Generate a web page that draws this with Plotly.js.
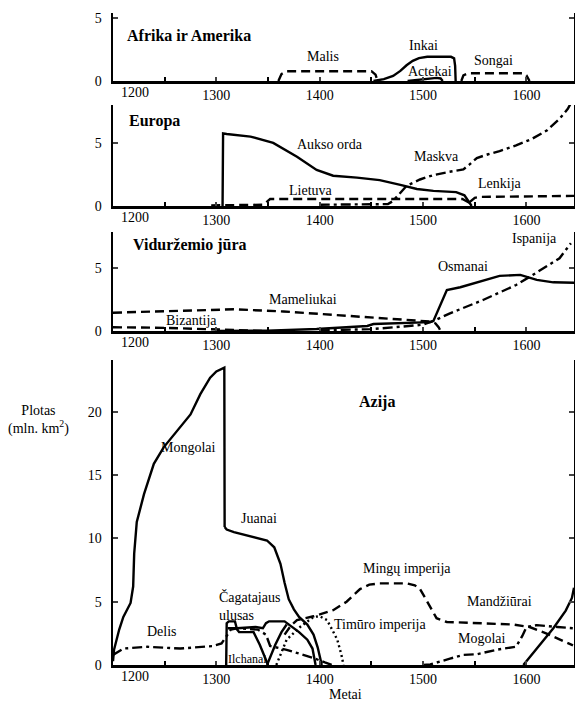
<!DOCTYPE html>
<html>
<head>
<meta charset="utf-8">
<script src="https://cdn.plot.ly/plotly-3.0.1.min.js"></script>
<style>html,body{margin:0;padding:0;background:#fff;}#chart{width:575px;height:703px;}</style>
</head>
<body>
<div id="chart"></div>
<script>
// ---------- data (years, area in mln. km²) ----------
// Afrika ir Amerika
var malisYears   = [1360, 1363, 1368, 1450, 1454, 1456];
var malisArea    = [0, 0.55, 0.78, 0.78, 0.5, 0];
var inkaiYears   = [1452, 1462, 1471, 1478, 1484, 1490, 1496, 1504, 1527, 1530, 1531, 1531.5];
var inkaiArea    = [0, 0.15, 0.4, 0.8, 1.25, 1.6, 1.82, 1.92, 1.92, 1.8, 1.2, 0];
var actekaiYears = [1485, 1495, 1505, 1513, 1517, 1519];
var actekaiArea  = [0, 0.08, 0.18, 0.25, 0.2, 0];
var songaiYears  = [1537, 1539, 1544, 1596, 1600, 1603];
var songaiArea   = [0, 0.45, 0.62, 0.62, 0.45, 0];

// Europa
var auksoYears   = [1306, 1306.5, 1310, 1333, 1355, 1378, 1397, 1413, 1436, 1458, 1478, 1494, 1510, 1532, 1540, 1544, 1547];
var auksoArea    = [0, 5.75, 5.7, 5.5, 5.0, 3.9, 2.86, 2.4, 2.25, 2.05, 1.67, 1.35, 1.2, 1.1, 0.85, 0.4, 0];
var lietuvaYears = [1295, 1345, 1349, 1352, 1538, 1542, 1545];
var lietuvaArea  = [0.05, 0.1, 0.35, 0.55, 0.55, 0.4, 0.25];
var lenkijaYears = [1545, 1550, 1555, 1600, 1646];
var lenkijaArea  = [0.3, 0.65, 0.72, 0.75, 0.8];
var maskvaYears  = [1400, 1440, 1466, 1471, 1478, 1484, 1497, 1510, 1525, 1539, 1545, 1552, 1563, 1574, 1590, 1605, 1620, 1632, 1640, 1646];
var maskvaArea   = [0.1, 0.1, 0.15, 0.4, 1.0, 1.6, 2.1, 2.45, 2.7, 2.9, 3.3, 3.8, 4.1, 4.35, 4.8, 5.3, 6.0, 6.9, 7.7, 8.6];

// Viduržemio jūra
var mameliukaiYears = [1200, 1250, 1285, 1317, 1365, 1413, 1462, 1507, 1512, 1515, 1517];
var mameliukaiArea  = [1.45, 1.55, 1.67, 1.72, 1.55, 1.27, 1.0, 0.75, 0.6, 0.3, 0];
var bizantijaYears  = [1200, 1250, 1290, 1330, 1345];
var bizantijaArea   = [0.3, 0.25, 0.15, 0.05, 0];
var osmanaiYears    = [1300, 1349, 1397, 1446, 1452, 1480, 1507, 1510, 1523, 1536, 1555, 1574, 1594, 1610, 1626, 1646];
var osmanaiArea     = [0, 0.02, 0.16, 0.4, 0.55, 0.62, 0.7, 0.8, 3.25, 3.47, 3.9, 4.37, 4.45, 4.05, 3.86, 3.83];
var ispanijaYears   = [1400, 1450, 1480, 1500, 1510, 1526, 1558, 1590, 1606, 1632, 1643];
var ispanijaArea    = [0.05, 0.15, 0.35, 0.5, 0.8, 1.4, 2.46, 3.65, 4.44, 5.77, 6.96];

// Azija
var mongolaiYears   = [1200, 1201, 1206, 1210, 1217, 1219.5, 1220.5, 1223, 1230, 1239.5, 1249, 1265, 1275, 1284.5, 1294, 1300, 1307, 1307.7, 1308];
var mongolaiArea    = [0.3, 1.2, 2.8, 3.8, 4.9, 6.2, 8.8, 11.3, 13.5, 15.9, 17.2, 18.8, 19.8, 21.4, 22.7, 23.2, 23.5, 23.5, 10.9];
var juanaiYears     = [1308, 1310, 1317, 1349, 1356, 1362, 1366, 1370, 1375, 1380, 1388, 1394, 1398, 1401, 1402];
var juanaiArea      = [10.9, 10.7, 10.5, 9.84, 9.3, 8.0, 6.5, 5.2, 4.4, 3.8, 3.2, 2.4, 1.4, 0.4, 0];
var ilchanaiYears   = [1309.5, 1310, 1312, 1318, 1320, 1322, 1336, 1342, 1350];
var ilchanaiArea    = [0, 3.3, 3.45, 3.45, 2.8, 2.6, 2.6, 1.6, 0];
var cagatajausYears = [1311, 1320, 1338, 1345, 1348, 1351, 1366, 1370, 1380, 1388, 1393, 1396];
var cagatajausArea  = [2.9, 2.9, 3.0, 2.9, 3.3, 3.45, 3.45, 3.2, 2.6, 2.0, 1.3, 0];
var cagatajausRiseYears = [1349, 1357, 1363, 1368];
var cagatajausRiseArea  = [0, 1.6, 2.6, 3.2];
var delisYears      = [1200, 1210, 1233, 1265, 1297, 1305, 1310, 1314, 1320, 1340, 1348, 1352, 1368, 1394, 1405, 1412];
var delisArea       = [0.8, 1.3, 1.44, 1.3, 1.5, 1.7, 2.3, 2.8, 2.9, 2.8, 2.4, 1.5, 1.2, 0.55, 0.2, 0];
var timuroYears     = [1358, 1368, 1381, 1394, 1400, 1407, 1412, 1417, 1421, 1423];
var timuroArea      = [0, 2.0, 3.0, 3.8, 3.85, 3.55, 2.8, 2.0, 0.8, 0];
var minguYears      = [1366, 1372, 1378, 1394, 1413, 1426, 1439, 1448, 1458, 1484, 1492, 1497, 1502, 1507, 1513, 1523, 1555, 1587, 1603, 1619, 1645];
var minguArea       = [2.4, 3.1, 3.55, 3.85, 4.33, 5.0, 6.0, 6.35, 6.45, 6.45, 6.3, 6.0, 5.3, 4.6, 3.7, 3.4, 3.3, 3.2, 3.0, 2.5, 1.55];
var mogolaiYears    = [1500, 1507, 1526, 1539, 1552, 1571, 1590, 1596, 1600, 1610, 1630, 1646];
var mogolaiArea     = [0, 0.05, 0.5, 0.8, 0.85, 1.2, 1.45, 2.3, 3.0, 3.15, 3.0, 2.9];
var mandziuraiYears = [1597, 1612, 1626, 1638, 1644, 1646];
var mandziuraiArea  = [0, 1.5, 2.9, 4.3, 5.3, 6.1];

// tick labels
var xTickYears  = [1300, 1400, 1500, 1600];
var xTickLabels = ['1300', '1400', '1500', '1600'];
var firstYearLabel = '1200';
var panelTitles = ['Afrika ir Amerika', 'Europa', 'Viduržemio jūra', 'Azija'];

// ---------- styles ----------
var SERIF = '"Liberation Serif", serif';
var FS = 14;
var LW = 2.4;
var DASH = '9px,5px';
var DASHDOT = '10px,4px,3px,4px';
var DOT = '2px,3px';

function tr(x, y, ax, dash) {
  return {x: x, y: y, xaxis: 'x' + ax, yaxis: 'y' + ax, type: 'scatter', mode: 'lines',
    line: {color: '#000', width: LW, dash: dash || 'solid'}, hoverinfo: 'skip', showlegend: false};
}

var data = [
  tr(malisYears, malisArea, '', DASH),
  tr(inkaiYears, inkaiArea, ''),
  tr(actekaiYears, actekaiArea, ''),
  tr(songaiYears, songaiArea, '', DASH),

  tr(auksoYears, auksoArea, '2'),
  tr(lietuvaYears, lietuvaArea, '2', DASH),
  tr(lenkijaYears, lenkijaArea, '2', DASH),
  tr(maskvaYears, maskvaArea, '2', DASHDOT),

  tr(mameliukaiYears, mameliukaiArea, '3', DASH),
  tr(bizantijaYears, bizantijaArea, '3', DASH),
  tr(osmanaiYears, osmanaiArea, '3'),
  tr(ispanijaYears, ispanijaArea, '3', DASHDOT),

  tr(mongolaiYears, mongolaiArea, '4'),
  tr(juanaiYears, juanaiArea, '4'),
  tr(ilchanaiYears, ilchanaiArea, '4'),
  tr(cagatajausYears, cagatajausArea, '4'),
  tr(cagatajausRiseYears, cagatajausRiseArea, '4'),
  tr(delisYears, delisArea, '4', DASHDOT),
  tr(timuroYears, timuroArea, '4', DOT),
  tr(minguYears, minguArea, '4', DASH),
  tr(mogolaiYears, mogolaiArea, '4', DASHDOT),
  tr(mandziuraiYears, mandziuraiArea, '4')
];

var H = 703;
function dom(bottomPx, topPx) { return [1 - bottomPx / H, 1 - topPx / H]; }

function xax(anchor) {
  return {domain: [0, 1], range: [1200, 1646], anchor: anchor, tickmode: 'array',
    tickvals: xTickYears, ticktext: xTickLabels, ticks: 'inside', ticklen: 4, tickwidth: 2,
    minor: {ticks: 'inside', tick0: 1250, dtick: 50, ticklen: 4, tickwidth: 2, tickcolor: '#000', showgrid: false},
    showline: true, linewidth: 2.5, linecolor: '#000', showgrid: false, zeroline: false,
    tickfont: {family: SERIF, size: FS, color: '#000'}, ticklabelstandoff: 0, fixedrange: true};
}
function yax(anchor, domain, range, dtick) {
  return {domain: domain, range: range, anchor: anchor, dtick: dtick, tick0: 0,
    ticks: 'inside', ticklen: 5, tickwidth: 2, showline: true, mirror: 'ticks',
    linewidth: 2.5, linecolor: '#000', showgrid: false, zeroline: false,
    tickfont: {family: SERIF, size: FS, color: '#000'}, ticklabelstandoff: 6, fixedrange: true};
}

function lab(text, x, y, ax, opts) {
  var a = {text: text, x: x, y: y, xref: 'x' + ax, yref: 'y' + ax, showarrow: false,
    font: {family: SERIF, size: FS, color: '#000'}, xanchor: 'center', yanchor: 'middle'};
  if (opts) for (var k in opts) a[k] = opts[k];
  return a;
}
var TITLEFONT = {family: SERIF, size: 16, color: '#000'};

var annotations = [
  lab('<b>' + panelTitles[0] + '</b>', 1212, 3.65, '', {xanchor: 'left', font: TITLEFONT}),
  lab('Malis', 1403, 1.95, ''),
  lab('Inkai', 1500, 2.85, ''),
  lab('Actekai', 1507, 0.75, ''),
  lab('Songai', 1568, 1.6, ''),

  lab('<b>' + panelTitles[1] + '</b>', 1214, 6.7, '2', {xanchor: 'left', font: TITLEFONT}),
  lab('Aukso orda', 1410, 4.9, '2'),
  lab('Maskva', 1513, 3.9, '2'),
  lab('Lietuva', 1392, 1.2, '2'),
  lab('Lenkija', 1574, 1.8, '2'),

  lab('<b>' + panelTitles[2] + '</b>', 1217, 6.8, '3', {xanchor: 'left', font: TITLEFONT}),
  lab('Mameliukai', 1384, 2.46, '3'),
  lab('Bizantija', 1276, 0.82, '3'),
  lab('Osmanai', 1539, 5.1, '3'),
  lab('Ispanija', 1608, 7.36, '3'),

  lab('<b>' + panelTitles[3] + '</b>', 1455, 20.8, '4', {font: TITLEFONT}),
  lab('Mongolai', 1273, 17.2, '4'),
  lab('Juanai', 1341, 11.6, '4'),
  lab('Čagatajaus<br>ulusas', 1300.5, 4.7, '4', {xanchor: 'left', align: 'left'}),
  lab('Delis', 1247.5, 2.64, '4'),
  lab('Ilchanai', 1330, 0.5, '4', {font: {family: SERIF, size: 12, color: '#000'}}),
  lab('Mingų imperija', 1484, 7.6, '4'),
  lab('Mandžiūrai', 1574, 5.0, '4'),
  lab('Timūro imperija', 1458.5, 3.17, '4'),
  lab('Mogolai', 1557, 2.1, '4'),

  {text: 'Plotas<br>(mln. km<sup>2</sup>)', xref: 'paper', yref: 'paper', x: (38 - 113) / 461, y: 1 - 420 / H,
    showarrow: false, xanchor: 'center', yanchor: 'middle', align: 'center', font: {family: SERIF, size: FS, color: '#000'}},
  {text: 'Metai', xref: 'paper', yref: 'paper', x: (345 - 113) / 461, y: 1 - 694 / H,
    showarrow: false, xanchor: 'center', yanchor: 'middle', font: {family: SERIF, size: FS, color: '#000'}}
];

['', '2', '3', '4'].forEach(function (ax) {
  annotations.push({text: firstYearLabel, x: 1221, xref: 'x' + ax, y: 0, yref: 'y' + ax + ' domain',
    yanchor: 'top', yshift: -2, showarrow: false, font: {family: SERIF, size: FS, color: '#000'}});
});

var layout = {
  width: 575, height: 703,
  margin: {l: 113, r: 1, t: 0, b: 0},
  paper_bgcolor: '#fff', plot_bgcolor: '#fff',
  showlegend: false,
  font: {family: SERIF, size: FS, color: '#000'},
  xaxis: xax('y'), yaxis: yax('x', dom(81, 13), [0, 5.4], 5),
  xaxis2: xax('y2'), yaxis2: yax('x2', dom(206, 105), [0, 8.0], 5),
  xaxis3: xax('y3'), yaxis3: yax('x3', dom(331, 232), [0, 7.85], 5),
  xaxis4: xax('y4'), yaxis4: yax('x4', dom(665, 360), [0, 24.1], 5),
  annotations: annotations
};

Plotly.newPlot('chart', data, layout, {staticPlot: true, displayModeBar: false});
</script>
</body>
</html>
